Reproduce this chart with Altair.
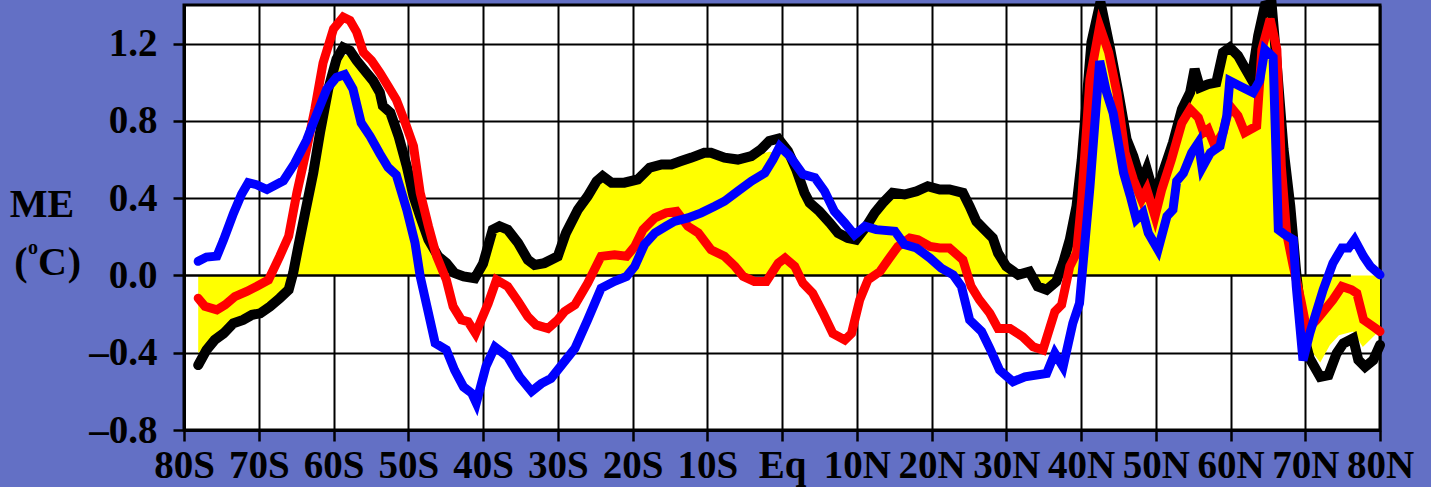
import altair as alt
import pandas as pd

# Zonal-mean error (ME, degC) by latitude: negative = south, positive = north
black_lat = [-78.1, -77.0, -75.9, -74.7, -73.4, -72.1, -70.9, -69.8, -68.5, -67.2,
             -66.0, -65.4, -64.7, -63.8, -62.7, -61.8, -60.7, -59.6, -58.7, -57.8,
             -56.9, -55.6, -54.7, -53.8, -53.4, -52.4, -51.3, -50.2, -49.3, -48.4,
             -47.3, -46.0, -44.9, -43.8, -42.6, -41.1, -40.0, -38.7, -37.8, -36.7,
             -35.3, -34.0, -33.1, -31.8, -30.0, -28.9, -27.3, -26.0, -24.8, -24.0,
             -22.8, -21.1, -19.3, -17.7, -16.1, -14.8, -13.5, -12.1, -10.4, -9.5,
             -7.7, -5.9, -4.1, -2.8, -1.7, -0.5, 0.8, 1.9, 3.0, 3.7,
             5.0, 6.4, 7.5, 8.8, 9.9, 11.3, 12.4, 13.5, 14.8, 16.4,
             18.0, 19.5, 21.1, 22.4, 24.2, 25.1, 26.0, 27.1, 28.2, 28.9,
             30.0, 31.6, 33.1, 34.2, 35.4, 36.7, 37.6, 38.5, 39.4, 40.1,
             41.4, 42.6, 43.9, 45.0, 46.1, 47.0, 48.1, 48.8, 49.7, 50.8,
             52.3, 53.5, 54.6, 55.2, 55.9, 57.0, 58.1, 59.0, 59.9, 61.0,
             61.9, 62.8, 63.7, 64.6, 65.5, 66.2, 67.1, 68.0, 68.8, 69.7,
             70.6, 72.0, 73.1, 74.2, 75.1, 76.4, 77.1, 78.0, 79.1, 80.0]
black_val = [-0.464, -0.386, -0.334, -0.300, -0.248, -0.230, -0.204, -0.196, -0.161, -0.118,
             -0.074, 0.012, 0.151, 0.324, 0.532, 0.740, 0.965, 1.120, 1.180, 1.164,
             1.112, 1.050, 1.008, 0.947, 0.878, 0.843, 0.722, 0.566, 0.410, 0.306,
             0.185, 0.099, 0.064, 0.012, -0.005, -0.014, 0.060, 0.237, 0.255, 0.237,
             0.168, 0.081, 0.055, 0.064, 0.099, 0.220, 0.341, 0.410, 0.488, 0.514,
             0.480, 0.480, 0.497, 0.558, 0.575, 0.575, 0.592, 0.610, 0.635, 0.635,
             0.610, 0.600, 0.618, 0.653, 0.696, 0.708, 0.644, 0.549, 0.428, 0.376,
             0.332, 0.272, 0.220, 0.194, 0.185, 0.255, 0.324, 0.376, 0.428, 0.419,
             0.436, 0.462, 0.445, 0.445, 0.428, 0.358, 0.280, 0.237, 0.194, 0.116,
             0.047, 0.003, 0.020, -0.057, -0.074, -0.031, 0.064, 0.185, 0.358, 0.600,
             1.207, 1.415, 1.172, 0.947, 0.705, 0.618, 0.480, 0.549, 0.428, 0.514,
             0.687, 0.860, 0.947, 1.068, 0.973, 0.990, 0.999, 1.155, 1.180, 1.138,
             1.077, 1.016, 1.240, 1.397, 1.406, 1.086, 0.653, 0.358, 0.012, -0.300,
             -0.430, -0.525, -0.516, -0.403, -0.352, -0.326, -0.438, -0.473, -0.438, -0.360]

# Shaded (yellow) field
yellow_lat = [-78.1, -77.0, -75.9, -74.7, -73.4, -72.1, -70.9, -69.8, -68.5, -67.2,
              -66.0, -65.4, -64.7, -63.8, -62.7, -61.8, -60.7, -59.6, -58.7, -57.8,
              -56.9, -55.6, -54.7, -53.8, -53.4, -52.4, -51.3, -50.2, -49.3, -48.4,
              -47.3, -46.0, -44.9, -43.8, -42.6, -41.1, -40.0, -38.7, -37.8, -36.7,
              -35.3, -34.0, -33.1, -31.8, -30.0, -28.9, -27.3, -26.0, -24.8, -24.0,
              -22.8, -21.1, -19.3, -17.7, -16.1, -14.8, -13.5, -12.1, -10.4, -9.5,
              -7.7, -5.9, -4.1, -2.8, -1.7, -0.5, 0.8, 1.9, 3.0, 3.7,
              5.0, 6.4, 7.5, 8.8, 9.9, 11.3, 12.4, 13.5, 14.8, 16.4,
              18.0, 19.5, 21.1, 22.4, 24.2, 25.1, 26.0, 27.1, 28.2, 28.9,
              30.0, 31.6, 33.1, 34.2, 35.4, 36.7, 37.6, 38.5, 39.4, 40.1,
              41.4, 42.6, 43.9, 45.0, 46.1, 47.0, 48.1, 48.8, 49.7, 50.8,
              52.3, 53.5, 54.6, 55.2, 55.9, 57.0, 58.1, 59.0, 59.9, 61.0,
              61.9, 62.8, 63.7, 64.6, 65.5, 66.2, 67.1, 68.0, 68.8, 69.7,
              70.6, 72.0, 73.3, 74.5, 76.4, 77.7, 79.4, 80.0]
yellow_val = [-0.400, -0.370, -0.325, -0.290, -0.240, -0.222, -0.196, -0.188, -0.153, -0.110,
              -0.066, 0.012, 0.145, 0.318, 0.525, 0.730, 0.950, 1.100, 1.140, 1.140,
              1.095, 1.035, 0.995, 0.935, 0.868, 0.830, 0.710, 0.556, 0.400, 0.296,
              0.175, 0.089, 0.054, 0.004, -0.005, -0.010, 0.050, 0.225, 0.243, 0.225,
              0.158, 0.071, 0.045, 0.054, 0.089, 0.208, 0.330, 0.398, 0.475, 0.500,
              0.468, 0.468, 0.485, 0.545, 0.562, 0.562, 0.580, 0.598, 0.622, 0.622,
              0.598, 0.588, 0.605, 0.630, 0.640, 0.635, 0.625, 0.537, 0.416, 0.365,
              0.320, 0.260, 0.208, 0.182, 0.173, 0.243, 0.312, 0.364, 0.416, 0.407,
              0.424, 0.450, 0.433, 0.433, 0.416, 0.346, 0.268, 0.225, 0.182, 0.104,
              0.035, -0.005, 0.008, -0.035, -0.045, -0.020, 0.052, 0.173, 0.346, 0.588,
              1.190, 1.380, 1.160, 0.935, 0.693, 0.606, 0.468, 0.537, 0.416, 0.502,
              0.675, 0.848, 0.935, 1.050, 0.961, 0.978, 0.987, 1.140, 1.160, 1.126,
              1.065, 1.004, 1.225, 1.380, 1.380, 1.074, 0.641, 0.346, 0.000, -0.250,
              -0.380, -0.450, -0.360, -0.310, -0.290, -0.370, -0.305, -0.280]

red_lat = [-78.1, -77.2, -75.6, -74.5, -73.2, -71.6, -70.3, -68.7, -67.2, -66.0,
           -64.9, -63.6, -62.5, -61.4, -60.0, -58.7, -57.8, -56.9, -56.0, -54.9,
           -53.8, -52.7, -51.6, -50.4, -49.3, -48.4, -47.3, -46.2, -44.9, -44.0,
           -42.9, -42.0, -41.0, -39.3, -38.2, -36.7, -35.3, -34.0, -32.9, -31.3,
           -30.0, -29.1, -27.7, -26.0, -24.2, -22.4, -20.8, -19.7, -18.6, -17.0,
           -15.5, -14.1, -12.6, -11.2, -9.5, -7.7, -6.3, -5.2, -3.7, -2.1,
           -0.5, 0.4, 1.7, 2.8, 4.1, 5.5, 6.8, 8.4, 9.3, 10.4,
           11.5, 13.1, 14.2, 15.5, 17.1, 18.2, 19.8, 21.1, 22.4, 24.2,
           25.3, 26.4, 27.8, 28.9, 30.5, 32.2, 33.6, 34.9, 36.5, 37.4,
           38.5, 39.4, 40.1, 41.2, 42.5, 43.7, 44.8, 45.9, 47.0, 48.1,
           48.8, 49.9, 50.8, 52.1, 53.5, 54.6, 55.7, 56.4, 57.0, 57.9,
           59.0, 59.9, 61.0, 61.9, 63.5, 64.2, 65.3, 66.2, 66.8, 67.5,
           68.4, 69.4, 70.2, 71.5, 72.6, 73.7, 74.9, 76.2, 76.9, 77.8,
           79.1, 80.0]
red_val = [-0.118, -0.160, -0.178, -0.152, -0.109, -0.083, -0.057, -0.023, 0.099, 0.203,
           0.428, 0.653, 0.860, 1.100, 1.276, 1.337, 1.320, 1.260, 1.155, 1.112,
           1.050, 0.980, 0.910, 0.790, 0.670, 0.428, 0.255, 0.099, -0.023, -0.160,
           -0.230, -0.239, -0.300, -0.144, -0.023, -0.057, -0.135, -0.213, -0.256, -0.274,
           -0.230, -0.187, -0.152, -0.040, 0.099, 0.107, 0.099, 0.150, 0.237, 0.298,
           0.324, 0.332, 0.255, 0.220, 0.133, 0.099, 0.047, -0.005, -0.031, -0.031,
           0.064, 0.090, 0.047, -0.040, -0.092, -0.196, -0.300, -0.334, -0.300, -0.126,
           -0.023, 0.020, 0.081, 0.150, 0.194, 0.185, 0.150, 0.142, 0.142, 0.081,
           -0.057, -0.126, -0.196, -0.274, -0.274, -0.317, -0.369, -0.386, -0.187, -0.152,
           0.047, 0.116, 0.393, 1.016, 1.290, 1.155, 0.947, 0.635, 0.497, 0.393,
           0.445, 0.306, 0.445, 0.600, 0.790, 0.860, 0.817, 0.740, 0.757, 0.670,
           0.740, 0.878, 0.826, 0.740, 0.774, 1.170, 1.328, 1.170, 0.566, 0.220,
           0.047, -0.126, -0.282, -0.230, -0.178, -0.126, -0.057, -0.074, -0.092, -0.230,
           -0.265, -0.290]

blue_lat = [-78.1, -77.0, -75.6, -74.7, -73.4, -72.3, -71.4, -70.3, -68.9, -66.7,
            -65.2, -63.6, -62.3, -60.9, -59.6, -58.5, -57.4, -56.3, -55.1, -53.8,
            -52.7, -51.6, -50.2, -49.1, -48.4, -47.5, -46.4, -44.9, -43.8, -42.6,
            -41.5, -40.9, -39.6, -38.4, -36.7, -35.1, -33.5, -32.2, -30.9, -29.3,
            -27.7, -26.0, -24.2, -22.4, -20.8, -19.7, -18.4, -17.0, -15.5, -14.4,
            -12.6, -10.8, -9.0, -7.7, -5.9, -4.1, -2.3, -1.2, -0.3, 1.0,
            2.8, 4.4, 5.7, 7.0, 8.4, 9.7, 11.1, 12.6, 15.1, 16.4,
            18.0, 19.8, 21.3, 22.9, 24.0, 25.1, 26.7, 27.8, 29.1, 30.9,
            32.5, 35.4, 36.5, 37.6, 38.9, 39.8, 41.2, 42.5, 43.4, 44.3,
            45.7, 46.6, 47.4, 48.3, 49.0, 50.3, 51.5, 52.3, 52.8, 53.7,
            54.8, 55.7, 56.2, 57.3, 58.6, 59.5, 59.9, 61.3, 63.0, 63.9,
            64.6, 65.7, 66.4, 67.3, 68.4, 68.8, 69.7, 70.6, 72.4, 73.7,
            74.9, 75.8, 76.6, 77.8, 78.7, 80.0]
blue_val = [0.073, 0.095, 0.100, 0.185, 0.320, 0.420, 0.480, 0.470, 0.445, 0.490,
            0.580, 0.700, 0.830, 0.965, 1.025, 1.040, 0.965, 0.790, 0.720, 0.630,
            0.560, 0.520, 0.340, 0.170, -0.005, -0.160, -0.350, -0.385, -0.490, -0.577,
            -0.610, -0.660, -0.470, -0.370, -0.420, -0.525, -0.600, -0.560, -0.533, -0.455,
            -0.377, -0.230, -0.066, -0.030, -0.005, 0.047, 0.160, 0.220, 0.255, 0.280,
            0.298, 0.324, 0.358, 0.384, 0.436, 0.488, 0.530, 0.600, 0.668, 0.620,
            0.523, 0.506, 0.436, 0.332, 0.272, 0.210, 0.255, 0.237, 0.229, 0.160,
            0.142, 0.090, 0.038, 0.003, -0.057, -0.230, -0.290, -0.377, -0.490, -0.550,
            -0.525, -0.507, -0.403, -0.473, -0.248, -0.144, 0.460, 1.110, 0.950, 0.840,
            0.530, 0.410, 0.290, 0.324, 0.220, 0.133, 0.306, 0.340, 0.488, 0.530,
            0.635, 0.687, 0.557, 0.635, 0.670, 0.826, 1.008, 0.980, 0.947, 1.008,
            1.170, 1.130, 0.237, 0.210, 0.185, -0.057, -0.440, -0.300, -0.074, 0.064,
            0.142, 0.142, 0.185, 0.099, 0.047, 0.003]

# Zero reference line extent (degrees latitude)
zero_from = [-80.0]
zero_to = [76.1]

lat_ticks = list(range(-80, 81, 10))
me_ticks = [-0.8, -0.4, 0.0, 0.4, 0.8, 1.2]

SERIF = "Liberation Serif"

x_enc = alt.X(
    "lat:Q",
    scale=alt.Scale(domain=[-80, 80], nice=False, zero=False),
    axis=alt.Axis(
        values=lat_ticks,
        labelExpr="datum.value == 0 ? 'Eq' : (datum.value < 0 ? (-datum.value) + 'S' : datum.value + 'N')",
        title=None,
        labelBaseline="alphabetic",
        labelPadding=36,
    ),
)
# the 0.0 level is drawn by its own (shorter) rule, so its grid line is hidden
y_enc = alt.Y(
    "me:Q",
    scale=alt.Scale(domain=[-0.8, 1.4], nice=False, zero=False),
    axis=alt.Axis(
        values=me_ticks,
        labelExpr="datum.value < 0 ? '\u2013' + format(-datum.value, '.1f') : format(datum.value, '.1f')",
        title=None,
        labelPadding=16,
        gridOpacity={"condition": {"test": "abs(datum.value) < 1e-9", "value": 0}, "value": 1},
    ),
)


def frame(lat, val):
    return pd.DataFrame({"lat": lat, "me": val})


shade = alt.Chart(frame(yellow_lat, yellow_val)).mark_area(
    color="#FFFF00", opacity=1
).encode(x=x_enc, y=y_enc, y2=alt.datum(0))

zero_line = alt.Chart(
    pd.DataFrame({"lat": zero_from, "lat2": zero_to, "me": [0.0]})
).mark_rule(color="black", strokeWidth=2.5).encode(x=x_enc, x2="lat2:Q", y=y_enc)


def curve(lat, val, color, width):
    return alt.Chart(frame(lat, val)).mark_line(
        color=color, strokeWidth=width, strokeCap="round", clip=False
    ).encode(x=x_enc, y=y_enc, order="lat:Q")


black = curve(black_lat, black_val, "#000000", 10)
red = curve(red_lat, red_val, "#FF0000", 9)
blue = curve(blue_lat, blue_val, "#0000FF", 9)


def label(text, px, py, size, align="center"):
    return alt.Chart(pd.DataFrame({"t": [text]})).mark_text(
        font=SERIF, fontWeight="bold", fontSize=size, color="black",
        align=align, baseline="alphabetic",
    ).encode(x=alt.value(px), y=alt.value(py), text="t:N")


# y-axis caption "ME" over "(°C)" with a raised small o
title_parts = [
    label("ME", -142, 212, 40),
    label("(", -156.5, 270, 40, align="right"),
    label("o", -151, 249, 20),
    label("C", -146, 270, 40, align="left"),
    label(")", -109.5, 270, 40),
]

chart = alt.layer(shade, zero_line, black, red, blue, *title_parts).properties(
    width=1196,
    height=425,
    padding={"left": 184, "top": 5, "right": 51, "bottom": 57},
    autosize=alt.AutoSizeParams(type="none"),
    background="#6370C5",
).configure_view(
    fill="white", stroke="black", strokeWidth=3
).configure_axis(
    domainColor="black", domainWidth=3,
    grid=True, gridColor="black", gridWidth=2,
    tickColor="black", tickWidth=2.5, tickSize=11,
    labelFont=SERIF, labelFontWeight="bold", labelFontSize=39, labelColor="black",
    labelFlush=False, labelOverlap=False,
)

chart.save("out.html", embed_options={"renderer": "svg", "actions": False})
